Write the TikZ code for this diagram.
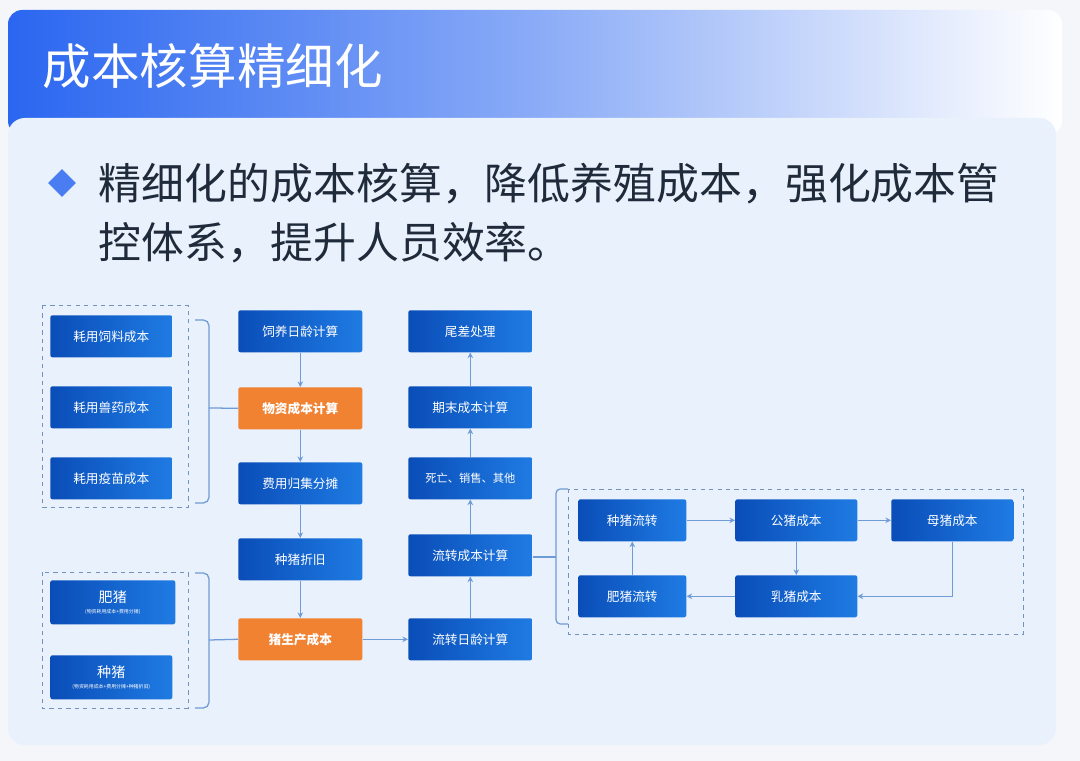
\documentclass[tikz,border=0pt]{standalone}
\usepackage{fontspec}
\setmainfont{Noto Sans CJK SC}
\usetikzlibrary{arrows.meta,shapes.geometric}
\definecolor{bg}{HTML}{F4F6FA}
\definecolor{card}{HTML}{E9F1FC}
\definecolor{hb}{HTML}{2A66F0}
\definecolor{bd}{HTML}{0A4DB8}
\definecolor{bl}{HTML}{1F7BE3}
\definecolor{og}{HTML}{F08232}
\definecolor{ln}{HTML}{6F9BD6}
\definecolor{txt}{HTML}{1F2A3A}
\tikzset{
 x=0.025cm,y=-0.025cm,
 bbox/.style={draw=none,left color=bd,right color=bl,rounded corners=1.5pt,text=white,font=\fontsize{9}{10}\selectfont},
 obox/.style={draw=none,fill=og,rounded corners=1.5pt,text=white,font=\bfseries\fontsize{9}{10}\selectfont},
 arr/.style={draw=ln,line width=0.8pt,-{Stealth[length=4pt,width=4pt]}},
 ln/.style={draw=ln,line width=0.9pt},
 grp/.style={draw=ln!70!gray,dashed,line width=0.6pt},
}
\newcommand{\bx}[6]{\node[#1,minimum width=#4*0.025cm-0.025cm*#2,minimum height=#5*0.025cm-0.025cm*#3,anchor=north west,inner sep=0pt] (#6) at (#2,#3) {};}
\begin{document}
\begin{tikzpicture}
\fill[bg] (0,0) rectangle (1080,761);
\useasboundingbox (0,0) rectangle (1080,761);
% header
\shade[left color=hb,right color=white,middle color=hb!55!white,rounded corners=10pt] (8,10) rectangle (1062,135);
\node[anchor=west,text=white,font=\fontsize{34.5}{36}\selectfont] (title) at (38,66) {成本核算精细化};
% card
\fill[card,rounded corners=12pt] (8,118) rectangle (1056,745);
\node[diamond,fill=hb!85!white,minimum size=20pt,inner sep=0pt] (dia) at (62,183) {};
\node[anchor=west,text=txt,font=\fontsize{30.5}{34}\selectfont] (l1) at (94,184) {精细化的成本核算，降低养殖成本，强化成本管};
\node[anchor=west,text=txt,font=\fontsize{30.5}{34}\selectfont] (l2) at (94,243) {控体系，提升人员效率。};
% groups
\draw[grp] (42,305) rectangle (188,507);
\draw[grp] (42,572) rectangle (188,708);
\draw[grp] (568,489) rectangle (1023,634);
% left boxes
\bx{bbox}{50}{315}{172}{357}{a1}\node[text=white,font=\fontsize{9}{10}\selectfont] at (a1) {耗用饲料成本};
\bx{bbox}{50}{386}{172}{428}{a2}\node[text=white,font=\fontsize{9}{10}\selectfont] at (a2) {耗用兽药成本};
\bx{bbox}{50}{457}{172}{499}{a3}\node[text=white,font=\fontsize{9}{10}\selectfont] at (a3) {耗用疫苗成本};
\bx{bbox}{50}{580}{175}{624}{f1}\node[text=white,align=center,font=\fontsize{10}{11}\selectfont] at (f1) {肥猪\\[-3pt]{\fontsize{3.5}{4}\selectfont (物资耗用成本+费用分摊)}};
\bx{bbox}{50}{655}{172}{699}{f2}\node[text=white,align=center,font=\fontsize{10}{11}\selectfont] at (f2) {种猪\\[-3pt]{\fontsize{3.5}{4}\selectfont (物资耗用成本+费用分摊+种猪折旧)}};
% column 2
\bx{bbox}{238}{310}{362}{352}{b1}\node[text=white,font=\fontsize{9}{10}\selectfont] at (b1) {饲养日龄计算};
\bx{obox}{238}{387}{362}{429}{b2}\node[text=white,font=\bfseries\fontsize{9}{10}\selectfont] at (b2) {物资成本计算};
\bx{bbox}{238}{462}{362}{504}{b3}\node[text=white,font=\fontsize{9}{10}\selectfont] at (b3) {费用归集分摊};
\bx{bbox}{238}{538}{362}{580}{b4}\node[text=white,font=\fontsize{9}{10}\selectfont] at (b4) {种猪折旧};
\bx{obox}{238}{618}{362}{660}{b5}\node[text=white,font=\bfseries\fontsize{9}{10}\selectfont] at (b5) {猪生产成本};
% column 3
\bx{bbox}{408}{310}{532}{352}{c1}\node[text=white,font=\fontsize{9}{10}\selectfont] at (c1) {尾差处理};
\bx{bbox}{408}{386}{532}{428}{c2}\node[text=white,font=\fontsize{9}{10}\selectfont] at (c2) {期末成本计算};
\bx{bbox}{408}{457}{532}{499}{c3}\node[text=white,font=\fontsize{8}{9}\selectfont] at (c3) {死亡、销售、其他};
\bx{bbox}{408}{534}{532}{576}{c4}\node[text=white,font=\fontsize{9}{10}\selectfont] at (c4) {流转成本计算};
\bx{bbox}{408}{618}{532}{660}{c5}\node[text=white,font=\fontsize{9}{10}\selectfont] at (c5) {流转日龄计算};
% right group
\bx{bbox}{578}{499}{686}{541}{d1}\node[text=white,font=\fontsize{9}{10}\selectfont] at (d1) {种猪流转};
\bx{bbox}{735}{499}{857}{541}{d2}\node[text=white,font=\fontsize{9}{10}\selectfont] at (d2) {公猪成本};
\bx{bbox}{891}{499}{1013}{541}{d3}\node[text=white,font=\fontsize{9}{10}\selectfont] at (d3) {母猪成本};
\bx{bbox}{578}{575}{686}{617}{d4}\node[text=white,font=\fontsize{9}{10}\selectfont] at (d4) {肥猪流转};
\bx{bbox}{735}{575}{857}{617}{d5}\node[text=white,font=\fontsize{9}{10}\selectfont] at (d5) {乳猪成本};
% braces
\draw[ln,rounded corners=4pt] (195,320) -- (209,320) -- (209,503) -- (195,503);
\coordinate (t1) at (209,408);
\draw[ln] (t1) -- (b2.west);
\draw[ln,rounded corners=4pt] (195,573) -- (209,573) -- (209,708) -- (195,708);
\coordinate (t2) at (209,640);
\draw[ln] (t2) -- (b5.west);
\draw[ln,rounded corners=3pt] (568,489) -- (556,489) -- (556,624) -- (568,624);
\coordinate (t3) at (556,557);
\draw[ln] (c4.east |- t3) -- (t3);
% arrows
\draw[arr] (b1) -- (b2);
\draw[arr] (b2) -- (b3);
\draw[arr] (b3) -- (b4);
\draw[arr] (b4) -- (b5);
\draw[arr] (b5) -- (c5);
\draw[arr] (c5) -- (c4);
\draw[arr] (c4) -- (c3);
\draw[arr] (c3) -- (c2);
\draw[arr] (c2) -- (c1);
\draw[arr] (d1) -- (d2);
\draw[arr] (d2) -- (d3);
\draw[arr] (d2) -- (d5);
\draw[arr] (d3.south) |- (d5.east);
\draw[arr] (d5) -- (d4);
\draw[arr] (d4) -- (d1);
\end{tikzpicture}
\end{document}
